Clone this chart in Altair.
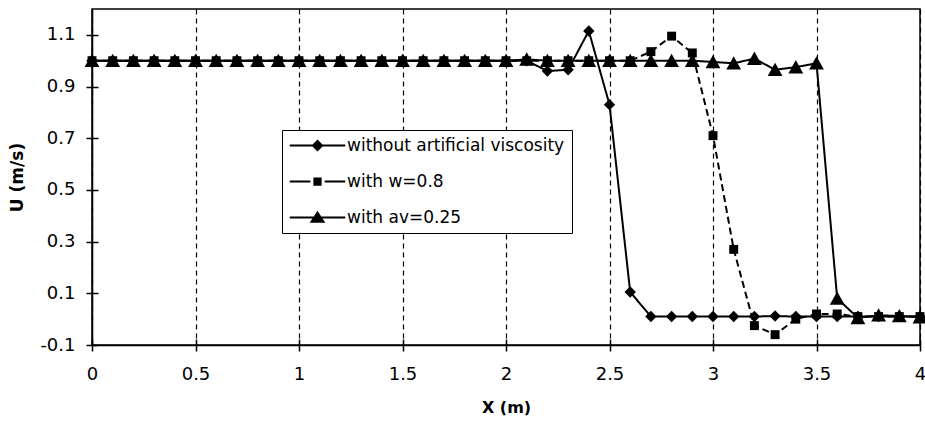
import altair as alt
import pandas as pd

# Positions along the channel (m)
x_m = [0.0, 0.1, 0.2, 0.3, 0.4, 0.5, 0.6, 0.7, 0.8, 0.9,
       1.0, 1.1, 1.2, 1.3, 1.4, 1.5, 1.6, 1.7, 1.8, 1.9,
       2.0, 2.1, 2.2, 2.3, 2.4, 2.5, 2.6, 2.7, 2.8, 2.9,
       3.0, 3.1, 3.2, 3.3, 3.4, 3.5, 3.6, 3.7, 3.8, 3.9, 4.0]

# Velocity U (m/s) for each run
u_plain = [1.0, 1.0, 1.0, 1.0, 1.0, 1.0, 1.0, 1.0, 1.0, 1.0,
           1.0, 1.0, 1.0, 1.0, 1.0, 1.0, 1.0, 1.0, 1.0, 1.0,
           1.0, 1.0, 0.96, 0.965, 1.115, 0.83, 0.105, 0.01, 0.01, 0.01,
           0.01, 0.01, 0.01, 0.012, 0.01, 0.01, 0.01, 0.01, 0.01, 0.01, 0.01]
u_w08 = [1.0, 1.0, 1.0, 1.0, 1.0, 1.0, 1.0, 1.0, 1.0, 1.0,
         1.0, 1.0, 1.0, 1.0, 1.0, 1.0, 1.0, 1.0, 1.0, 1.0,
         1.0, 1.0, 1.0, 1.0, 1.0, 1.0, 1.0, 1.035, 1.095, 1.03,
         0.71, 0.27, -0.025, -0.06, 0.0, 0.02, 0.02, 0.01, 0.01, 0.01, 0.01]
u_av025 = [1.0, 1.0, 1.0, 1.0, 1.0, 1.0, 1.0, 1.0, 1.0, 1.0,
           1.0, 1.0, 1.0, 1.0, 1.0, 1.0, 1.0, 1.0, 1.0, 1.0,
           1.0, 1.005, 1.0, 1.0, 1.0, 1.0, 1.0, 1.0, 1.0, 1.0,
           0.995, 0.99, 1.008, 0.965, 0.975, 0.99, 0.08, 0.005, 0.015, 0.012, 0.008]

series_names = ["without artificial viscosity", "with w=0.8", "with av=0.25"]
series_values = [u_plain, u_w08, u_av025]

x_ticks = [0, 0.5, 1, 1.5, 2, 2.5, 3, 3.5, 4]
y_ticks = [-0.1, 0.1, 0.3, 0.5, 0.7, 0.9, 1.1]

rows = []
for name, vals in zip(series_names, series_values):
    for xv, uv in zip(x_m, vals):
        rows.append({"x": xv, "u": uv, "series": name})
df = pd.DataFrame(rows)

FONT = "DejaVu Sans"

x_scale = alt.Scale(domain=[0, 4], nice=False, zero=False)
y_scale = alt.Scale(domain=[-0.1, 1.2], nice=False, zero=False)

x_axis = alt.Axis(
    values=x_ticks, format="~g", orient="bottom",
    grid=True, gridColor="black", gridDash=[5, 4], gridWidth=1.2, gridOpacity=1,
    domainColor="black", domainWidth=1.5,
    tickColor="black", tickSize=6, tickWidth=1.5,
    labelFont=FONT, labelFontSize=18, labelColor="black", labelPadding=14,
    labelFlush=False, labelOverlap=False,
    title="X (m)", titleFont=FONT, titleFontSize=16, titleFontWeight="bold",
    titleColor="black", titleY=62, titleBaseline="middle",
)
y_axis = alt.Axis(
    values=y_ticks, format=".1f", labelExpr="replace(datum.label, '\u2212', '-')",
    orient="left", grid=False,
    domainColor="black", domainWidth=1.5,
    tickColor="black", tickSize=6, tickWidth=1.5,
    labelFont=FONT, labelFontSize=18, labelColor="black", labelPadding=11,
    labelFlush=False, labelOverlap=False,
    title="U (m/s)", titleFont=FONT, titleFontSize=17, titleFontWeight="bold",
    titleColor="black", titleX=-75, titleY=168, titleBaseline="middle",
)

x_enc = alt.X("x:Q", scale=x_scale, axis=x_axis)
y_enc = alt.Y("u:Q", scale=y_scale, axis=y_axis)

base = alt.Chart(df)

TRIANGLE = "M0,-0.95L1,0.85L-1,0.85Z"

styles = [
    ("without artificial viscosity", "diamond", 130, [1, 0]),
    ("with w=0.8", "square", 80, [7, 4]),
    ("with av=0.25", TRIANGLE, 220, [1, 0]),
]

layers = []
for name, shape, size, dash in styles:
    sub = base.transform_filter(alt.datum.series == name)
    layers.append(
        sub.mark_line(color="black", strokeWidth=2, strokeDash=dash)
        .encode(x=x_enc, y=y_enc)
    )
    layers.append(
        sub.mark_point(shape=shape, size=size, filled=True, color="black", opacity=1)
        .encode(x=x_enc, y=y_enc)
    )
curves = alt.layer(*layers)

# Legend symbols: a short filled bar (the line) with the series marker in the middle
legend_paths = [
    "M-3.7,-0.14H3.7V0.14H-3.7Z"
    "M0,-0.8L0.8,0L0,0.8L-0.8,0Z",
    "M-3.7,-0.14H-0.95V0.14H-3.7Z"
    "M0.95,-0.14H3.7V0.14H0.95Z"
    "M-0.55,-0.55H0.55V0.55H-0.55Z",
    "M-3.7,-0.14H3.7V0.14H-3.7Z"
    "M0,-0.9L1.05,0.7L-1.05,0.7Z",
]

inner_x_axis = alt.Axis(
    values=x_ticks, orient="bottom", offset=-6, labels=False, domain=False,
    grid=False, tickColor="black", tickSize=6, tickWidth=1.5, title=None,
)
inner_y_axis = alt.Axis(
    values=y_ticks, orient="left", offset=-6, labels=False, domain=False,
    grid=False, tickColor="black", tickSize=6, tickWidth=1.5, title=None,
)

key = base.mark_point(filled=True, color="black", opacity=0).encode(
    x=alt.X("x:Q", scale=x_scale, axis=inner_x_axis),
    y=alt.Y("u:Q", scale=y_scale, axis=inner_y_axis),
    shape=alt.Shape(
        "series:N",
        scale=alt.Scale(domain=series_names, range=legend_paths),
        legend=alt.Legend(
            title=None, orient="none", legendX=190, legendY=121,
            direction="vertical", fillColor="white", strokeColor="black",
            padding=7, rowPadding=17, symbolOffset=20, labelOffset=21,
            symbolSize=225, symbolFillColor="black", symbolOpacity=1,
            labelFont=FONT, labelFontSize=17, labelColor="black", labelLimit=0,
        ),
    ),
)

chart = (
    alt.layer(curves, key)
    .resolve_scale(x="independent", y="independent")
    .properties(
        width=828, height=336,
        autosize=alt.AutoSizeParams(type="none"),
        padding={"left": 92, "top": 9, "right": 5, "bottom": 78},
        background="white",
    )
    .configure_view(stroke="black", strokeWidth=1.5)
)

chart.save("out.html", embed_options={"renderer": "svg", "actions": False})
